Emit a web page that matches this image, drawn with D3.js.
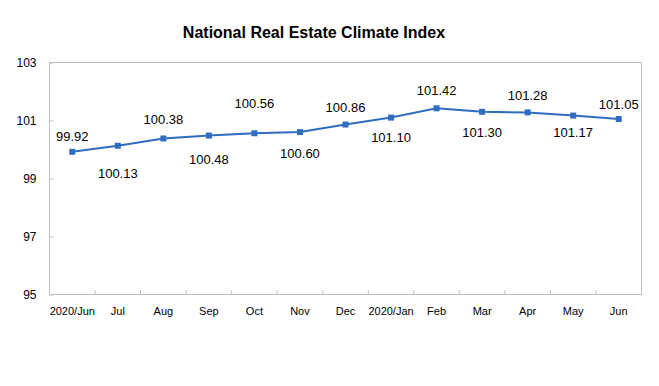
<!DOCTYPE html>
<html><head><meta charset="utf-8">
<script src="https://cdn.jsdelivr.net/npm/d3@7/dist/d3.min.js"></script>
<style>body{margin:0;background:#fff}svg{display:block;font-family:"Liberation Sans",Arial,sans-serif}</style>
</head><body><div id="chart"></div>
<script>
const categories = ["2020/Jun","Jul","Aug","Sep","Oct","Nov","Dec","2020/Jan","Feb","Mar","Apr","May","Jun"];
const values = [99.92,100.13,100.38,100.48,100.56,100.60,100.86,101.10,101.42,101.30,101.28,101.17,101.05];
const yTicks = [95,97,99,101,103];
const title = "National Real Estate Climate Index";
// label placement (layout only): negative = above point, positive = below
const labelOffset = [-15,28,-19,24,-30,21,-17,20,-18,21,-17,17,-15];

const W = 659, H = 386;
const m = {left:49.5, right:641.5, top:62.5, bottom:294.5};
const svg = d3.select("#chart").append("svg").attr("width",W).attr("height",H);

svg.append("text").attr("x",314).attr("y",38).attr("text-anchor","middle")
  .attr("font-weight","bold").attr("font-size",16).attr("fill","#000").text(title);

const x = d3.scaleBand().domain(categories).range([m.left,m.right]);
const y = d3.scaleLinear().domain([95,103]).range([m.bottom,m.top]);

svg.append("rect").attr("x",m.left).attr("y",m.top).attr("width",m.right-m.left).attr("height",m.bottom-m.top)
  .attr("fill","none").attr("stroke","#bfbfbf").attr("stroke-width",1);

const ya = svg.append("g").attr("transform",`translate(${m.left},0)`)
  .call(d3.axisLeft(y).tickValues(yTicks).tickSize(-4).tickPadding(13).tickFormat(d3.format("d")));
ya.select(".domain").remove();
ya.selectAll("line").attr("stroke","#bfbfbf");
ya.selectAll("text").attr("font-size",12).attr("fill","#000").attr("font-family","Liberation Sans, Arial, sans-serif");

const bounds = categories.slice(1).map(c => x(c));
svg.append("g").selectAll("line").data(bounds).join("line")
  .attr("x1",d=>d).attr("x2",d=>d).attr("y1",m.bottom).attr("y2",m.bottom-4).attr("stroke","#bfbfbf");
svg.append("g").selectAll("text").data(categories).join("text")
  .attr("x",d=>x(d)+x.bandwidth()/2).attr("y",315).attr("text-anchor","middle")
  .attr("font-size",11).attr("fill","#000").text(d=>d);

const cx = (d,i) => x(categories[i]) + x.bandwidth()/2;
const line = d3.line().x((d,i)=>cx(d,i)).y(d=>y(d));
svg.append("path").datum(values).attr("d",line).attr("fill","none")
  .attr("stroke","#2E6DBF").attr("stroke-width",2);
svg.append("g").selectAll("rect").data(values).join("rect")
  .attr("x",(d,i)=>cx(d,i)-3).attr("y",d=>y(d)-3).attr("width",6).attr("height",6).attr("fill","#2E6DBF");

svg.append("g").selectAll("text").data(values).join("text")
  .attr("x",(d,i)=>cx(d,i)).attr("y",(d,i)=> y(d)+labelOffset[i]+4.5)
  .attr("text-anchor","middle").attr("font-size",13).attr("fill","#000")
  .text(d=>d.toFixed(2));
</script></body></html>
